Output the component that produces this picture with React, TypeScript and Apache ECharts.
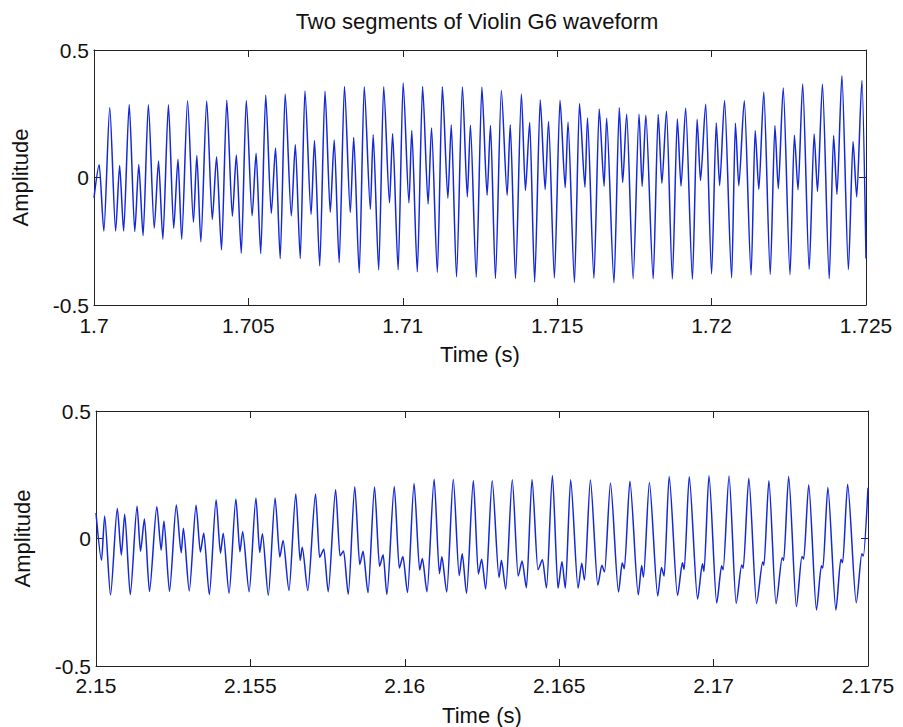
import React, { useEffect, useRef } from 'react';
import * as echarts from 'echarts';

// ---------- text ----------
const TITLE = 'Two segments of Violin G6 waveform';
const Y_LABEL = 'Amplitude';
const X_LABEL = 'Time (s)';

// ---------- axes ----------
const TOP_START_S = 1.7;
const TOP_END_S = 1.725;
const BOTTOM_START_S = 2.15;
const BOTTOM_END_S = 2.175;
const X_STEP_S = 0.005;
const Y_MIN = -0.5;
const Y_MAX = 0.5;
const Y_STEP = 0.5;

// ---------- segment 1 (1.700 s - 1.725 s): key points ----------
// time in ms after TOP_START_S
const topTimesMs = [
  0.0, 0.17, 0.32,
  0.51, 0.7, 0.83, 0.96,
  1.14, 1.32, 1.45, 1.59,
  1.76, 1.95, 2.09, 2.23,
  2.41, 2.58, 2.72, 2.84,
  3.03, 3.22, 3.33, 3.46,
  3.65, 3.83, 3.97, 4.13,
  4.3, 4.48, 4.61, 4.77,
  4.93, 5.12, 5.25, 5.4,
  5.56, 5.74, 5.88, 6.03,
  6.19, 6.39, 6.52, 6.68,
  6.83, 7.03, 7.14, 7.31,
  7.48, 7.65, 7.78, 7.94,
  8.11, 8.3, 8.41, 8.59,
  8.75, 8.95, 9.04, 9.22,
  9.38, 9.57, 9.67, 9.85,
  10.01, 10.2, 10.29, 10.47,
  10.64, 10.82, 10.93, 11.12,
  11.28, 11.46, 11.57, 11.74,
  11.93, 12.09, 12.19, 12.38,
  12.56, 12.73, 12.84, 13.0,
  13.19, 13.38, 13.48, 13.65,
  13.84, 13.97, 14.11, 14.27,
  14.45, 14.61, 14.72, 14.91,
  15.09, 15.26, 15.35, 15.56,
  15.72, 15.9, 15.98, 16.19,
  16.36, 16.52, 16.6, 16.84,
  17.01, 17.12, 17.25, 17.46,
  17.65, 17.75, 17.87, 18.11,
  18.27, 18.39, 18.54, 18.73,
  18.89, 19.01, 19.16, 19.38,
  19.53, 19.64, 19.81, 20.0,
  20.15, 20.26, 20.42, 20.65,
  20.77, 20.88, 21.06, 21.28,
  21.41, 21.53, 21.69, 21.9,
  22.05, 22.16, 22.32, 22.54,
  22.68, 22.8, 22.95, 23.16,
  23.32, 23.43, 23.59, 23.81,
  23.95, 24.06, 24.22, 24.43,
  24.58, 24.7, 24.87, 25.0,
];
const topAmps = [
  -0.08, 0.05, -0.21,
  0.275, -0.21, 0.047, -0.21,
  0.286, -0.212, 0.051, -0.228,
  0.285, -0.199, 0.065, -0.242,
  0.285, -0.199, 0.072, -0.242,
  0.301, -0.175, 0.086, -0.252,
  0.3, -0.165, 0.081, -0.284,
  0.303, -0.152, 0.088, -0.297,
  0.302, -0.15, 0.095, -0.298,
  0.323, -0.141, 0.116, -0.318,
  0.327, -0.151, 0.129, -0.318,
  0.339, -0.145, 0.145, -0.346,
  0.338, -0.136, 0.147, -0.334,
  0.357, -0.137, 0.157, -0.374,
  0.356, -0.125, 0.168, -0.362,
  0.356, -0.099, 0.172, -0.362,
  0.371, -0.1, 0.184, -0.37,
  0.357, -0.104, 0.194, -0.372,
  0.356, -0.081, 0.206, -0.39,
  0.355, -0.076, 0.205, -0.391,
  0.354, -0.07, 0.204, -0.396,
  0.341, -0.07, 0.207, -0.396,
  0.327, -0.051, 0.216, -0.41,
  0.304, -0.047, 0.22, -0.394,
  0.303, -0.04, 0.217, -0.412,
  0.29, -0.038, 0.233, -0.395,
  0.269, -0.034, 0.232, -0.413,
  0.274, -0.02, 0.248, -0.397,
  0.248, -0.035, 0.244, -0.397,
  0.247, -0.023, 0.26, -0.398,
  0.229, -0.034, 0.272, -0.399,
  0.228, -0.012, 0.287, -0.378,
  0.214, -0.031, 0.302, -0.393,
  0.213, -0.032, 0.301, -0.382,
  0.184, -0.047, 0.335, -0.38,
  0.203, -0.044, 0.351, -0.381,
  0.166, -0.048, 0.367, -0.36,
  0.171, -0.055, 0.366, -0.397,
  0.165, -0.066, 0.399, -0.361,
  0.141, -0.076, 0.381, -0.318,
];

// ---------- segment 2 (2.150 s - 2.175 s): key points ----------
// time in ms after BOTTOM_START_S
const bottomTimesMs = [
  0.0, 0.18, 0.28, 0.47,
  0.69, 0.82, 0.93, 1.11,
  1.33, 1.44, 1.57, 1.73,
  1.97, 2.11, 2.2, 2.38,
  2.6, 2.76, 2.83, 3.02,
  3.24, 3.38, 3.49, 3.67,
  3.89, 4.03, 4.12, 4.31,
  4.53, 4.66, 4.75, 4.96,
  5.18, 5.3, 5.39, 5.58,
  5.8, 5.95, 6.06, 6.25,
  6.47, 6.61, 6.68, 6.86,
  7.11, 7.24, 7.38, 7.52,
  7.76, 7.9, 8.02, 8.17,
  8.38, 8.54, 8.65, 8.81,
  9.02, 9.18, 9.3, 9.42,
  9.66, 9.82, 9.94, 10.09,
  10.3, 10.48, 10.57, 10.72,
  10.95, 11.12, 11.2, 11.36,
  11.57, 11.76, 11.86, 12.0,
  12.22, 12.38, 12.49, 12.62,
  12.83, 13.05, 13.13, 13.27,
  13.48, 13.67, 13.8, 13.94,
  14.12, 14.31, 14.46, 14.59,
  14.78, 14.96, 15.09, 15.2,
  15.37, 15.61, 15.73, 15.82,
  16.01, 16.25, 16.38, 16.47,
  16.66, 16.92, 17.04, 17.11,
  17.29, 17.56, 17.67, 17.73,
  17.92, 18.19, 18.31, 18.4,
  18.56, 18.83, 18.99, 19.05,
  19.21, 19.48, 19.64, 19.69,
  19.85, 20.1, 20.26, 20.31,
  20.5, 20.73, 20.91, 20.96,
  21.14, 21.39, 21.59, 21.63,
  21.79, 22.02, 22.22, 22.27,
  22.43, 22.68, 22.86, 22.92,
  23.08, 23.33, 23.49, 23.54,
  23.7, 23.96, 24.12, 24.18,
  24.34, 24.62, 24.8, 24.85,
  25.0,
];
const bottomAmps = [
  0.1, -0.085, 0.088, -0.222,
  0.118, -0.065, 0.095, -0.22,
  0.126, -0.05, 0.076, -0.208,
  0.125, -0.046, 0.069, -0.208,
  0.131, -0.056, 0.04, -0.206,
  0.13, -0.053, 0.022, -0.22,
  0.152, -0.058, 0.021, -0.215,
  0.155, -0.052, 0.027, -0.209,
  0.159, -0.055, 0.019, -0.223,
  0.159, -0.073, -0.008, -0.204,
  0.175, -0.086, -0.034, -0.204,
  0.175, -0.074, -0.042, -0.209,
  0.191, -0.068, -0.049, -0.219,
  0.203, -0.102, -0.05, -0.213,
  0.202, -0.109, -0.064, -0.22,
  0.204, -0.116, -0.071, -0.212,
  0.216, -0.124, -0.078, -0.209,
  0.232, -0.138, -0.072, -0.21,
  0.232, -0.145, -0.06, -0.215,
  0.227, -0.139, -0.081, -0.198,
  0.226, -0.153, -0.085, -0.199,
  0.23, -0.147, -0.088, -0.193,
  0.231, -0.122, -0.083, -0.194,
  0.247, -0.195, -0.09, -0.195,
  0.23, -0.195, -0.097, -0.163,
  0.229, -0.183, -0.105, -0.131,
  0.218, -0.21, -0.095, -0.119,
  0.225, -0.221, -0.106, -0.152,
  0.22, -0.225, -0.114, -0.147,
  0.243, -0.223, -0.095, -0.121,
  0.242, -0.237, -0.099, -0.129,
  0.246, -0.253, -0.107, -0.123,
  0.245, -0.254, -0.104, -0.117,
  0.236, -0.255, -0.092, -0.105,
  0.226, -0.256, -0.075, -0.086,
  0.243, -0.267, -0.071, -0.08,
  0.211, -0.28, -0.107, -0.116,
  0.2, -0.281, -0.081, -0.095,
  0.213, -0.252, -0.06, -0.069,
  0.199,
];

const FONT = '"Liberation Sans", Arial, Helvetica, sans-serif';
const INK = '#111';
const FRAME = '#222';
const WAVE = '#1428d8';

const toSeries = (startS: number, times: number[], amps: number[]) =>
  times.map((t, i) => [startS + t / 1000, amps[i]]);

export default function App() {
  const ref = useRef<HTMLDivElement>(null);

  useEffect(() => {
    if (!ref.current) return;
    const chart = echarts.init(ref.current, undefined, { renderer: 'svg' });

    const frameLine = { show: true, onZero: false, lineStyle: { color: FRAME, width: 1 } };
    const tick = { show: true, inside: true, length: 7, lineStyle: { color: FRAME, width: 1 } };
    const tickLabel = { show: true, fontSize: 21, lineHeight: 18, color: INK, fontFamily: FONT };
    const nameStyle = { fontSize: 22, color: INK, fontFamily: FONT };

    const xPair = (grid: number, min: number, max: number, margin: number) => [
      {
        type: 'value', gridIndex: grid, position: 'bottom', min, max, interval: X_STEP_S,
        axisLine: frameLine, axisTick: tick, splitLine: { show: false },
        axisLabel: { ...tickLabel, margin },
        name: X_LABEL, nameLocation: 'middle', nameGap: 38, nameTextStyle: nameStyle,
      },
      {
        type: 'value', gridIndex: grid, position: 'top', min, max, interval: X_STEP_S,
        axisLine: frameLine, axisTick: tick, splitLine: { show: false },
        axisLabel: { show: false },
      },
    ];
    const yPair = (grid: number) => [
      {
        type: 'value', gridIndex: grid, position: 'left', min: Y_MIN, max: Y_MAX, interval: Y_STEP,
        axisLine: frameLine, axisTick: tick, splitLine: { show: false },
        axisLabel: { ...tickLabel, margin: 5 },
        name: Y_LABEL, nameLocation: 'middle', nameRotate: 90, nameGap: 63, nameTextStyle: nameStyle,
      },
      {
        type: 'value', gridIndex: grid, position: 'right', min: Y_MIN, max: Y_MAX, interval: Y_STEP,
        axisLine: frameLine, axisTick: tick, splitLine: { show: false },
        axisLabel: { show: false },
      },
    ];

    const lineSeries = (xi: number, yi: number, data: number[][]) => ({
      type: 'line', xAxisIndex: xi, yAxisIndex: yi, data,
      showSymbol: false, symbol: 'none', smooth: 0.25, smoothMonotone: 'x',
      lineStyle: { color: WAVE, width: 1.5 }, clip: true, silent: true,
    });

    chart.setOption({
      animation: false,
      backgroundColor: '#fff',
      textStyle: { fontFamily: FONT },
      graphic: [
        {
          type: 'text', x: 477, y: 21,
          style: { text: TITLE, fontSize: 22, fontFamily: FONT, fill: INK, align: 'center', verticalAlign: 'middle' },
        },
      ],
      grid: [
        { left: 94, right: 37, top: 50, height: 255 },
        { left: 96, right: 35, top: 411, height: 255 },
      ],
      xAxis: [...xPair(0, TOP_START_S, TOP_END_S, 11), ...xPair(1, BOTTOM_START_S, BOTTOM_END_S, 10)],
      yAxis: [...yPair(0), ...yPair(1)],
      series: [
        lineSeries(0, 0, toSeries(TOP_START_S, topTimesMs, topAmps)),
        lineSeries(2, 2, toSeries(BOTTOM_START_S, bottomTimesMs, bottomAmps)),
      ],
    });

    return () => chart.dispose();
  }, []);

  return (
    <div
      ref={ref}
      style={{ position: 'absolute', left: 0, top: 0, width: 903, height: 727, background: '#fff' }}
    />
  );
}
